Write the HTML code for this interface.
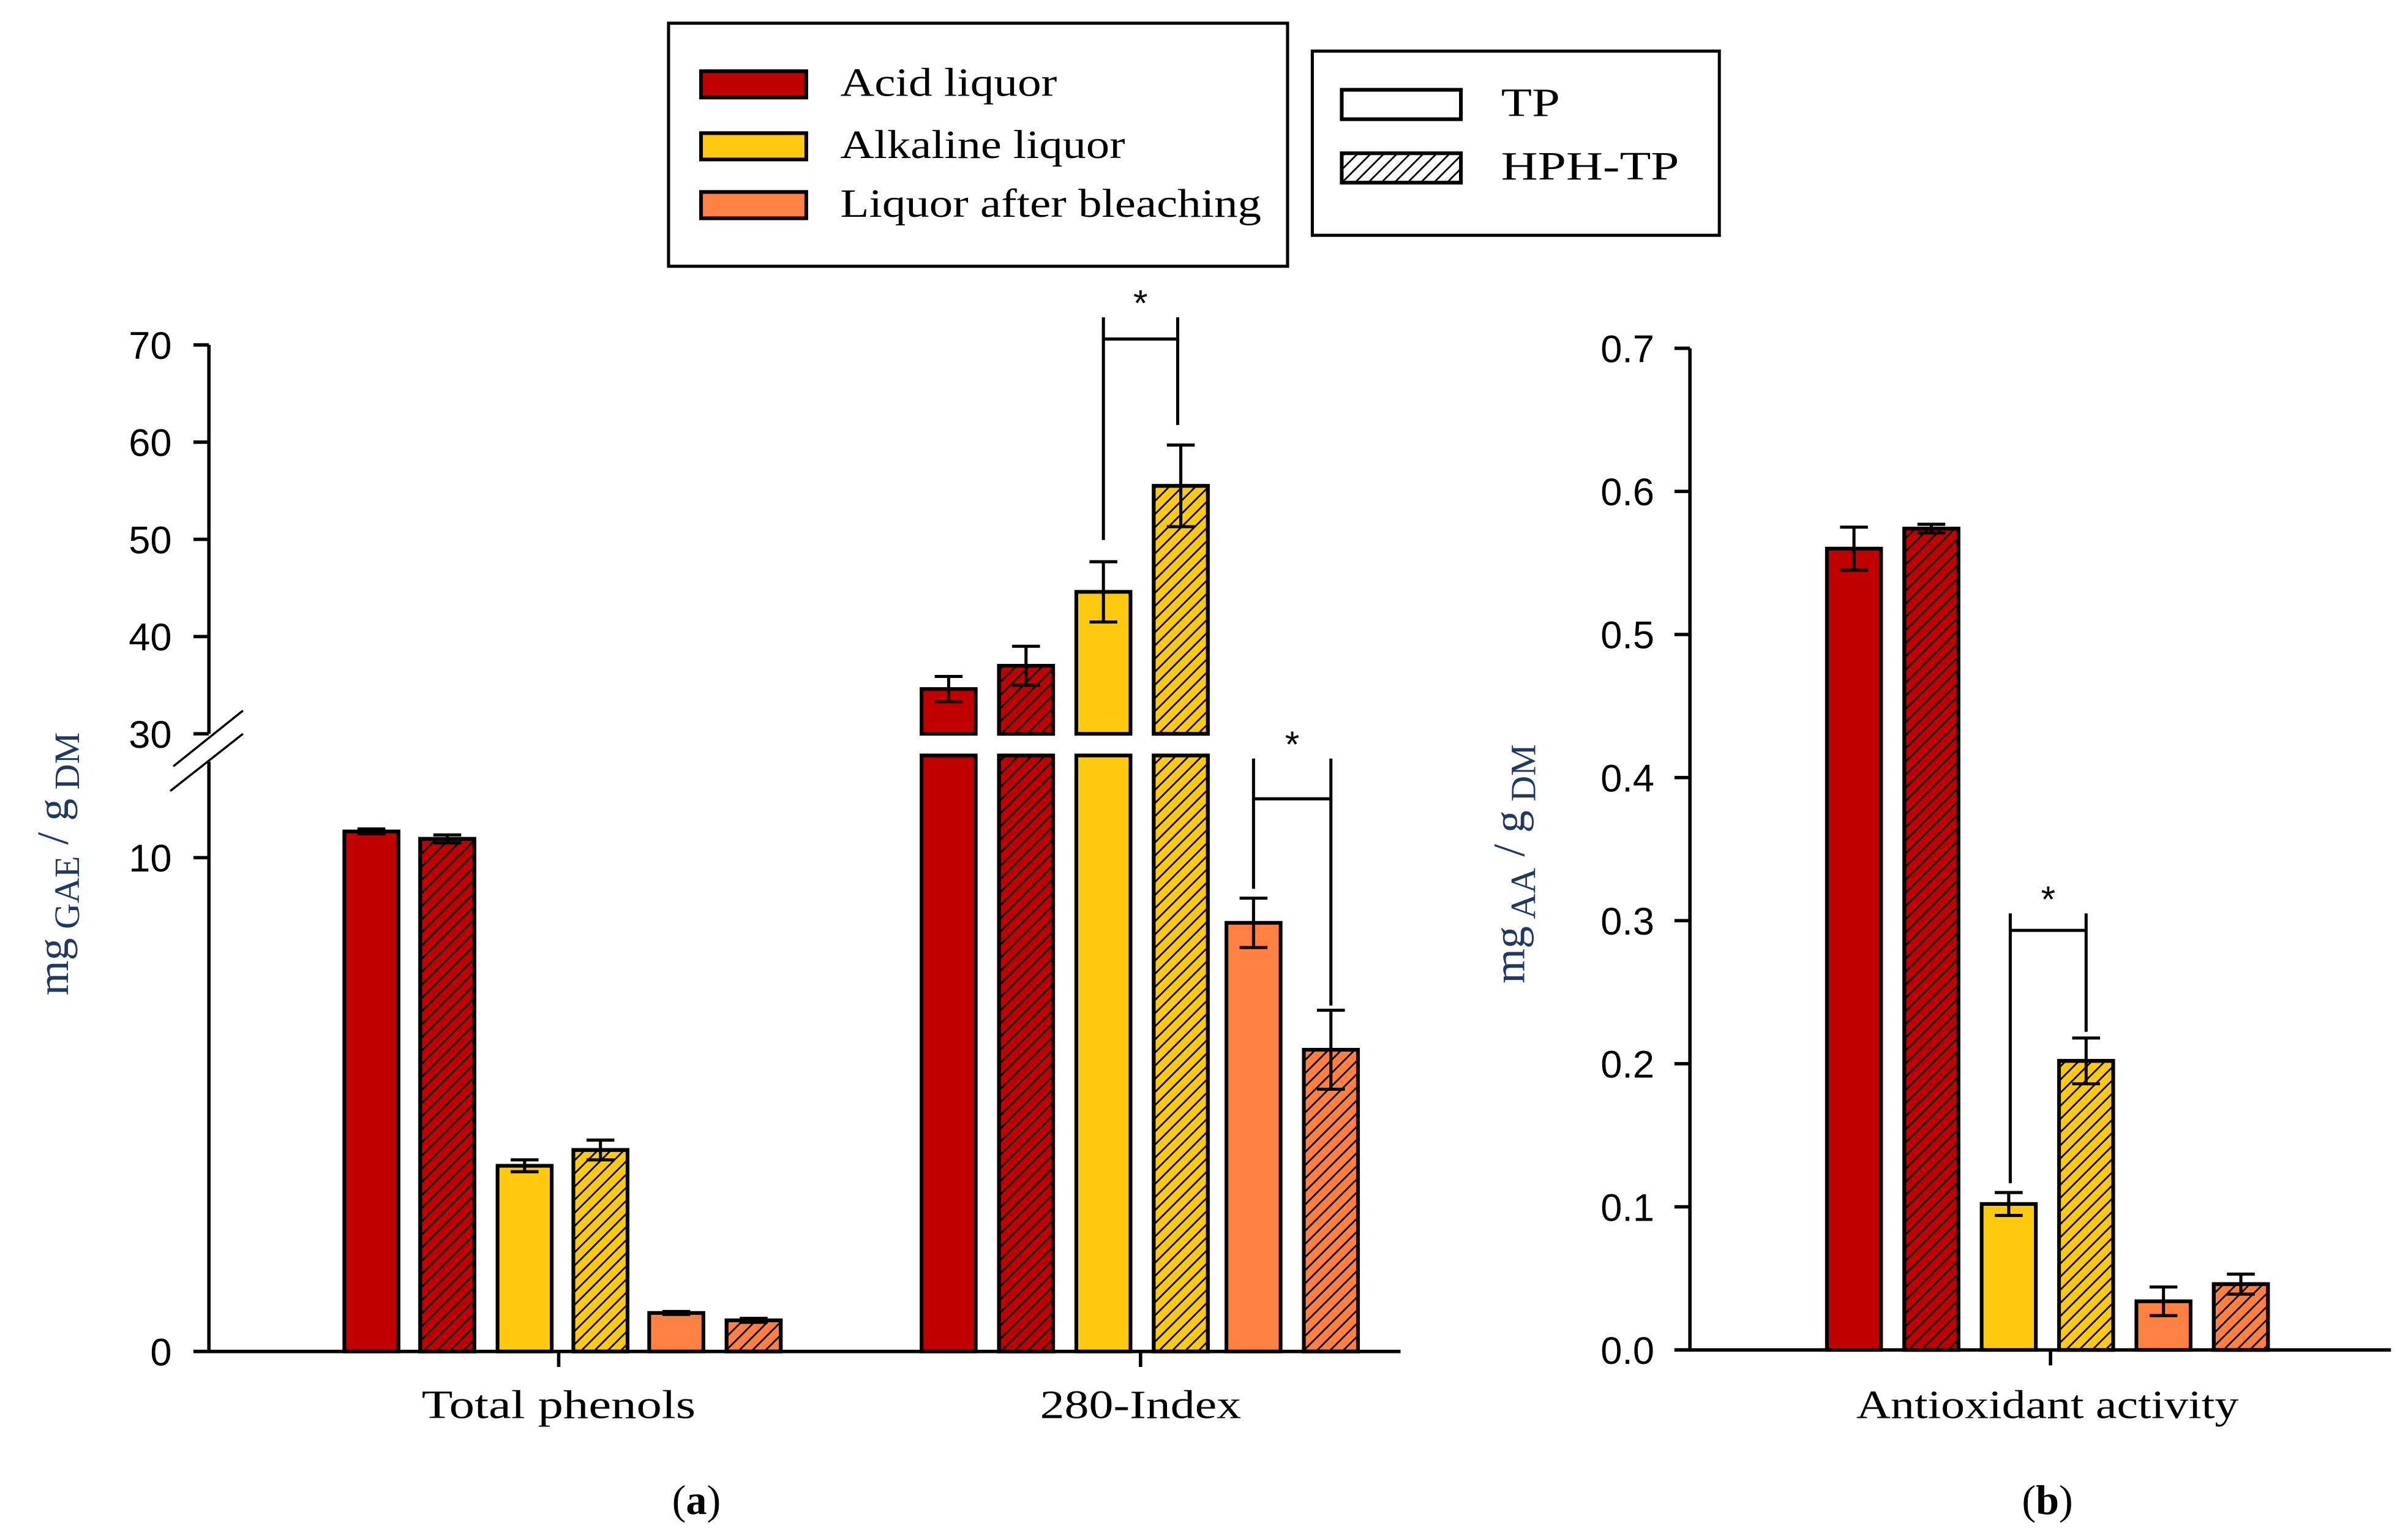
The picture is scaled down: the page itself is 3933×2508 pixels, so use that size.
<!DOCTYPE html>
<html><head><meta charset="utf-8"><style>
html,body{margin:0;padding:0;background:#fff;}
svg{display:block;}
.serif{font-family:"Liberation Serif",serif;}
.sans{font-family:"Liberation Sans",sans-serif;}
</style></head><body>
<svg id="chart" width="3933" height="2508" viewBox="0 0 1556 992.2" preserveAspectRatio="none" xmlns="http://www.w3.org/2000/svg">
<defs>
<pattern id="hatch" patternUnits="userSpaceOnUse" width="6" height="6" patternTransform="rotate(45)">
<line x1="0" y1="0" x2="0" y2="6" stroke="#000" stroke-width="2.2"/>
</pattern>
</defs>
<g id="root"></g>
</svg>
<script>
// ---- data ----
const seriesNames = ["Acid liquor","Alkaline liquor","Liquor after bleaching"];
const seriesColors = ["#C00000","#FFC90E","#FF8040"];
const treatments = ["TP","HPH-TP"];
const categoriesA = ["Total phenols","280-Index"];
const totalPhenolsValues = [10.53,10.38,3.76,4.08,0.78,0.63];
const totalPhenolsErrors = [0.05,0.08,0.12,0.2,0.03,0.04];
const index280Values = [34.6,37.0,44.6,55.5,8.68,6.11];
const index280Errors = [1.3,2.0,3.1,4.2,0.5,0.8];
const antioxValues = [0.560,0.574,0.102,0.202,0.034,0.046];
const antioxErrors = [0.015,0.003,0.008,0.016,0.010,0.007];
const ticksAUpper = [30,40,50,60,70];
const ticksALower = [0,10];
const ticksB = ["0.0","0.1","0.2","0.3","0.4","0.5","0.6","0.7"];

const NS="http://www.w3.org/2000/svg";
const root=document.getElementById('root');
function mk(tag,attrs,parent,text){const e=document.createElementNS(NS,tag);for(const k in attrs)e.setAttribute(k,attrs[k]);if(text!==undefined)e.textContent=text;(parent||root).appendChild(e);return e;}

const yLowA=v=>873-v*31.9;
const yUpA=v=>474-(v-30)*6.28;
const yB=v=>872-v*924.3;
const barW=35;
const centersTP=[240,289,339,388,437,487];
const centers280=[613,663,713,763,810,860];
const centersB=[1198,1248,1298,1348,1398,1448];
function fillFor(i){return seriesColors[Math.floor(i/2)];}

function bar(cx,yTop,yBot,i,g,name){
  const r=mk('rect',{x:cx-barW/2,y:yTop,width:barW,height:yBot-yTop,fill:fillFor(i),stroke:'#000','stroke-width':2.4},g);
  
  
  if(i%2===1){const h=mk('rect',{x:cx-barW/2,y:yTop,width:barW,height:yBot-yTop,fill:'url(#hatch)',stroke:'#000','stroke-width':2.4},g);
  
  }
}
function err(cx,y1,y2,g){
  const e=mk('g',{stroke:'#000','stroke-width':2},g);
  
  
  mk('line',{x1:cx,y1:y1,x2:cx,y2:y2},e);
  mk('line',{x1:cx-9,y1:y1,x2:cx+9,y2:y1},e);
  mk('line',{x1:cx-9,y1:y2,x2:cx+9,y2:y2},e);
}
function bracket(x1,y1,x2,y2,top,hy,g){
  const b=mk('g',{stroke:'#000','stroke-width':2,fill:'none'},g);
  
  
  mk('line',{x1:x1,y1:y1,x2:x1,y2:top},b);
  mk('line',{x1:x2,y1:y2,x2:x2,y2:top},b);
  mk('line',{x1:x1,y1:hy,x2:x2,y2:hy},b);
  const t=mk('text',{x:(x1+x2)/2,y:top-1,'text-anchor':'middle','font-size':24,class:'sans',stroke:'none',fill:'#000'},g,'*');
  
  
}
function stext(x,y,str,len,g,anchor){
  return mk('text',{x:x,y:y,'font-size':26,class:'serif','text-anchor':anchor||'start',textLength:len,lengthAdjust:'spacingAndGlyphs'},g,str);
}

// ---------- Legends ----------
const lg1=mk('g',{});


mk('rect',{x:432,y:15,width:400,height:157,fill:'#fff',stroke:'#000','stroke-width':2},lg1);
const legLens=[140,184,272];
seriesNames.forEach((n,i)=>{
  const ent=mk('g',{},lg1);
  
  
  const y=[46,86,124][i];
  mk('rect',{x:453,y:y,width:68,height:17,fill:seriesColors[i],stroke:'#000','stroke-width':2.4},ent);
  stext(543,y+16,n,legLens[i],ent);
});
const lg2=mk('g',{});


mk('rect',{x:848,y:33,width:263,height:119,fill:'#fff',stroke:'#000','stroke-width':2},lg2);
const trLens=[38,115];
treatments.forEach((n,i)=>{
  const ent=mk('g',{},lg2);
  
  
  const y=[58,99][i];
  mk('rect',{x:867,y:y,width:77,height:19,fill:i?'url(#hatch)':'#fff',stroke:'#000','stroke-width':2.4},ent);
  stext(970,y+17,n,trLens[i],ent);
});

// ---------- Panel A ----------
const pa=mk('g',{});


const ax=mk('g',{stroke:'#000','stroke-width':2.2},pa);


mk('line',{x1:135,y1:yUpA(70),x2:135,y2:474},ax);
mk('line',{x1:135,y1:492,x2:135,y2:873},ax);
mk('line',{x1:112,y1:495,x2:157,y2:459,'stroke-width':1.4},ax);
mk('line',{x1:110,y1:511,x2:157,y2:474,'stroke-width':1.4},ax);
mk('line',{x1:125,y1:873,x2:905,y2:873},ax);
ticksAUpper.forEach(v=>{
  mk('line',{x1:125,y1:yUpA(v),x2:135,y2:yUpA(v)},ax);
  const t=mk('text',{x:111,y:yUpA(v)+9,'text-anchor':'end','font-size':25,class:'sans',stroke:'none'},pa,String(v));
  
  
});
ticksALower.forEach(v=>{
  mk('line',{x1:125,y1:yLowA(v),x2:135,y2:yLowA(v)},ax);
  const t=mk('text',{x:111,y:yLowA(v)+9,'text-anchor':'end','font-size':25,class:'sans',stroke:'none'},pa,String(v));
  
  
});
const catLens=[177,130];
[361,737].forEach((x,i)=>{
  mk('line',{x1:x,y1:873,x2:x,y2:883},ax);
  const t=stext(x,916,categoriesA[i],catLens[i],pa,'middle');
  
  
});
const yt=mk('text',{transform:'translate(44,558) rotate(-90)','text-anchor':'middle','font-size':29,class:'serif',fill:'#1f3864'},pa);


yt.innerHTML='mg<tspan font-size="23" dy="7"> GAE</tspan><tspan dy="-7"> / </tspan><tspan>g</tspan><tspan font-size="23" dy="7"> DM</tspan>';

totalPhenolsValues.forEach((v,i)=>{
  bar(centersTP[i],yLowA(v),873,i,pa,'bar-total-phenols-'+i);
  err(centersTP[i],yLowA(v+totalPhenolsErrors[i]),yLowA(v-totalPhenolsErrors[i]),pa);
});
index280Values.forEach((v,i)=>{
  const cx=centers280[i];
  if(v>30){
    bar(cx,488,873,i,pa,'bar-280-index-lower-'+i);
    bar(cx,yUpA(v),474,i,pa,'bar-280-index-upper-'+i);
    err(cx,yUpA(v+index280Errors[i]),yUpA(v-index280Errors[i]),pa);
  }else{
    bar(cx,yLowA(v),873,i,pa,'bar-280-index-'+i);
    err(cx,yLowA(v+index280Errors[i]),yLowA(v-index280Errors[i]),pa);
  }
});
bracket(713,yUpA(index280Values[2]+index280Errors[2])-14,761,yUpA(index280Values[3]+index280Errors[3])-13,205,219,pa);
bracket(810,yLowA(index280Values[4]+index280Errors[4])-6,860,yLowA(index280Values[5]+index280Errors[5])-3,490,516,pa);
const la=mk('text',{x:450,y:978,'text-anchor':'middle','font-size':27,class:'serif'},pa);


la.innerHTML='(<tspan font-weight="bold">a</tspan>)';

// ---------- Panel B ----------
const pb=mk('g',{});


const bx=mk('g',{stroke:'#000','stroke-width':2.2},pb);


mk('line',{x1:1092,y1:yB(0.7),x2:1092,y2:872},bx);
mk('line',{x1:1082,y1:872,x2:1545,y2:872},bx);
ticksB.forEach(s=>{
  const v=parseFloat(s);
  mk('line',{x1:1082,y1:yB(v),x2:1092,y2:yB(v)},bx);
  const t=mk('text',{x:1069,y:yB(v)+9,'text-anchor':'end','font-size':25,class:'sans',stroke:'none'},pb,s);
  
  
});
mk('line',{x1:1325,y1:872,x2:1325,y2:882},bx);
const cb=stext(1323,916,'Antioxidant activity',247,pb,'middle');


const ytb=mk('text',{transform:'translate(985,558) rotate(-90)','text-anchor':'middle','font-size':29,class:'serif',fill:'#1f3864'},pb);


ytb.innerHTML='mg<tspan font-size="23" dy="7"> AA</tspan><tspan dy="-7"> / </tspan><tspan>g</tspan><tspan font-size="23" dy="7"> DM</tspan>';
antioxValues.forEach((v,i)=>{
  bar(centersB[i],yB(v),872,i,pb,'bar-antioxidant-'+i);
  err(centersB[i],yB(v+antioxErrors[i]),yB(v-antioxErrors[i]),pb);
});
bracket(1299,yB(antioxValues[2]+antioxErrors[2])-6,1348,yB(antioxValues[3]+antioxErrors[3])-4,590,601,pb);
const lb=mk('text',{x:1323,y:978,'text-anchor':'middle','font-size':27,class:'serif'},pb);


lb.innerHTML='(<tspan font-weight="bold">b</tspan>)';
</script>
</body></html>
